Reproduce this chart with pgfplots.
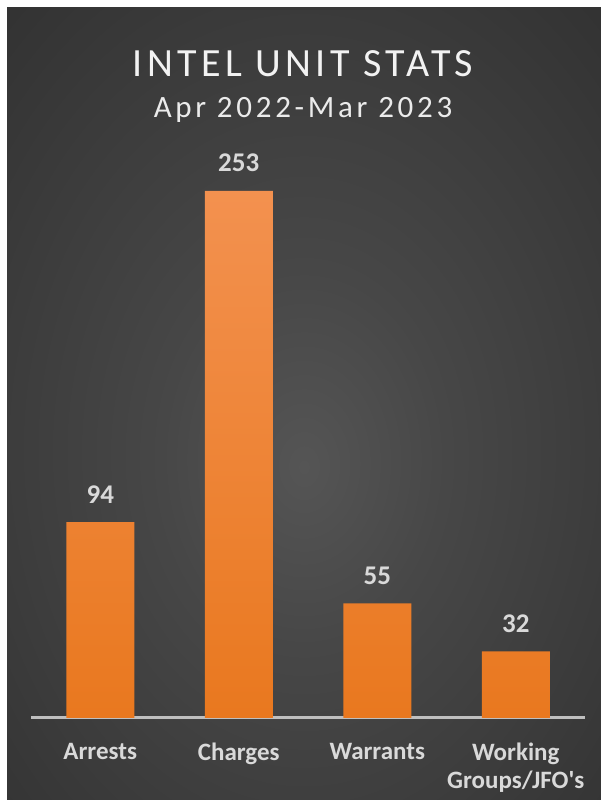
\documentclass[border=0pt]{standalone}
\usepackage{fontspec}
\setmainfont{Carlito}
\usepackage{pgfplots}
\pgfplotsset{compat=1.18}
\definecolor{bgcenter}{HTML}{555555}
\definecolor{bgmid}{HTML}{474747}
\definecolor{bgedge}{HTML}{2C2C2C}
\definecolor{bartop}{HTML}{F3914F}
\definecolor{barbot}{HTML}{E9781F}
\definecolor{lbl}{HTML}{D9D9D9}
\definecolor{axisgray}{HTML}{BFBFBF}
\pgfdeclareradialshading{bgshade}{\pgfpoint{0bp}{-4bp}}{color(0bp)=(bgcenter); color(12bp)=(bgmid); color(45bp)=(bgedge); color(80bp)=(bgedge)}
\begin{document}
\begin{tikzpicture}[x=1bp,y=1bp]
\fill[white] (0,0) rectangle (601,800);
\shade[shading=bgshade] (7,0) rectangle (601,792);
\node[font=\fontsize{40bp}{44bp}\selectfont\addfontfeature{LetterSpace=11}, text=white!95!black, anchor=base, inner sep=0] at (303,723) {INTEL UNIT STATS};
\node[font=\fontsize{31bp}{36bp}\selectfont\addfontfeature{LetterSpace=12}, text=white!92!black, anchor=base, inner sep=0] at (303,682) {Apr 2022-Mar 2023};
\begin{axis}[at={(31bp,82bp)}, anchor=south west, scale only axis,
  width=554bp, height=527bp, xmin=-0.5, xmax=3.5, ymin=0, ymax=253,
  axis x line=bottom, axis y line=none,
  axis line style={-, draw=axisgray, line width=3bp},
  xtick={0,1,2,3},
  xticklabels={Arrests,Charges,Warrants,{Working\\Groups/JFO\textquotesingle s}},
  major tick length=0,
  xticklabel style={font=\bfseries\fontsize{25bp}{28bp}\selectfont, text=lbl, align=center, anchor=north, inner sep=0pt, yshift=-25bp},
  ybar, bar width=68bp, clip=false,
  nodes near coords,
  /pgf/number format/assume math mode=true,
  every node near coord/.append style={font=\bfseries\fontsize{27bp}{30bp}\selectfont, text=lbl, anchor=base, yshift=19bp}]
\addplot[draw=none, top color=bartop, bottom color=barbot] coordinates {(0,94) (1,253) (2,55) (3,32)};
\end{axis}
\end{tikzpicture}
\end{document}
